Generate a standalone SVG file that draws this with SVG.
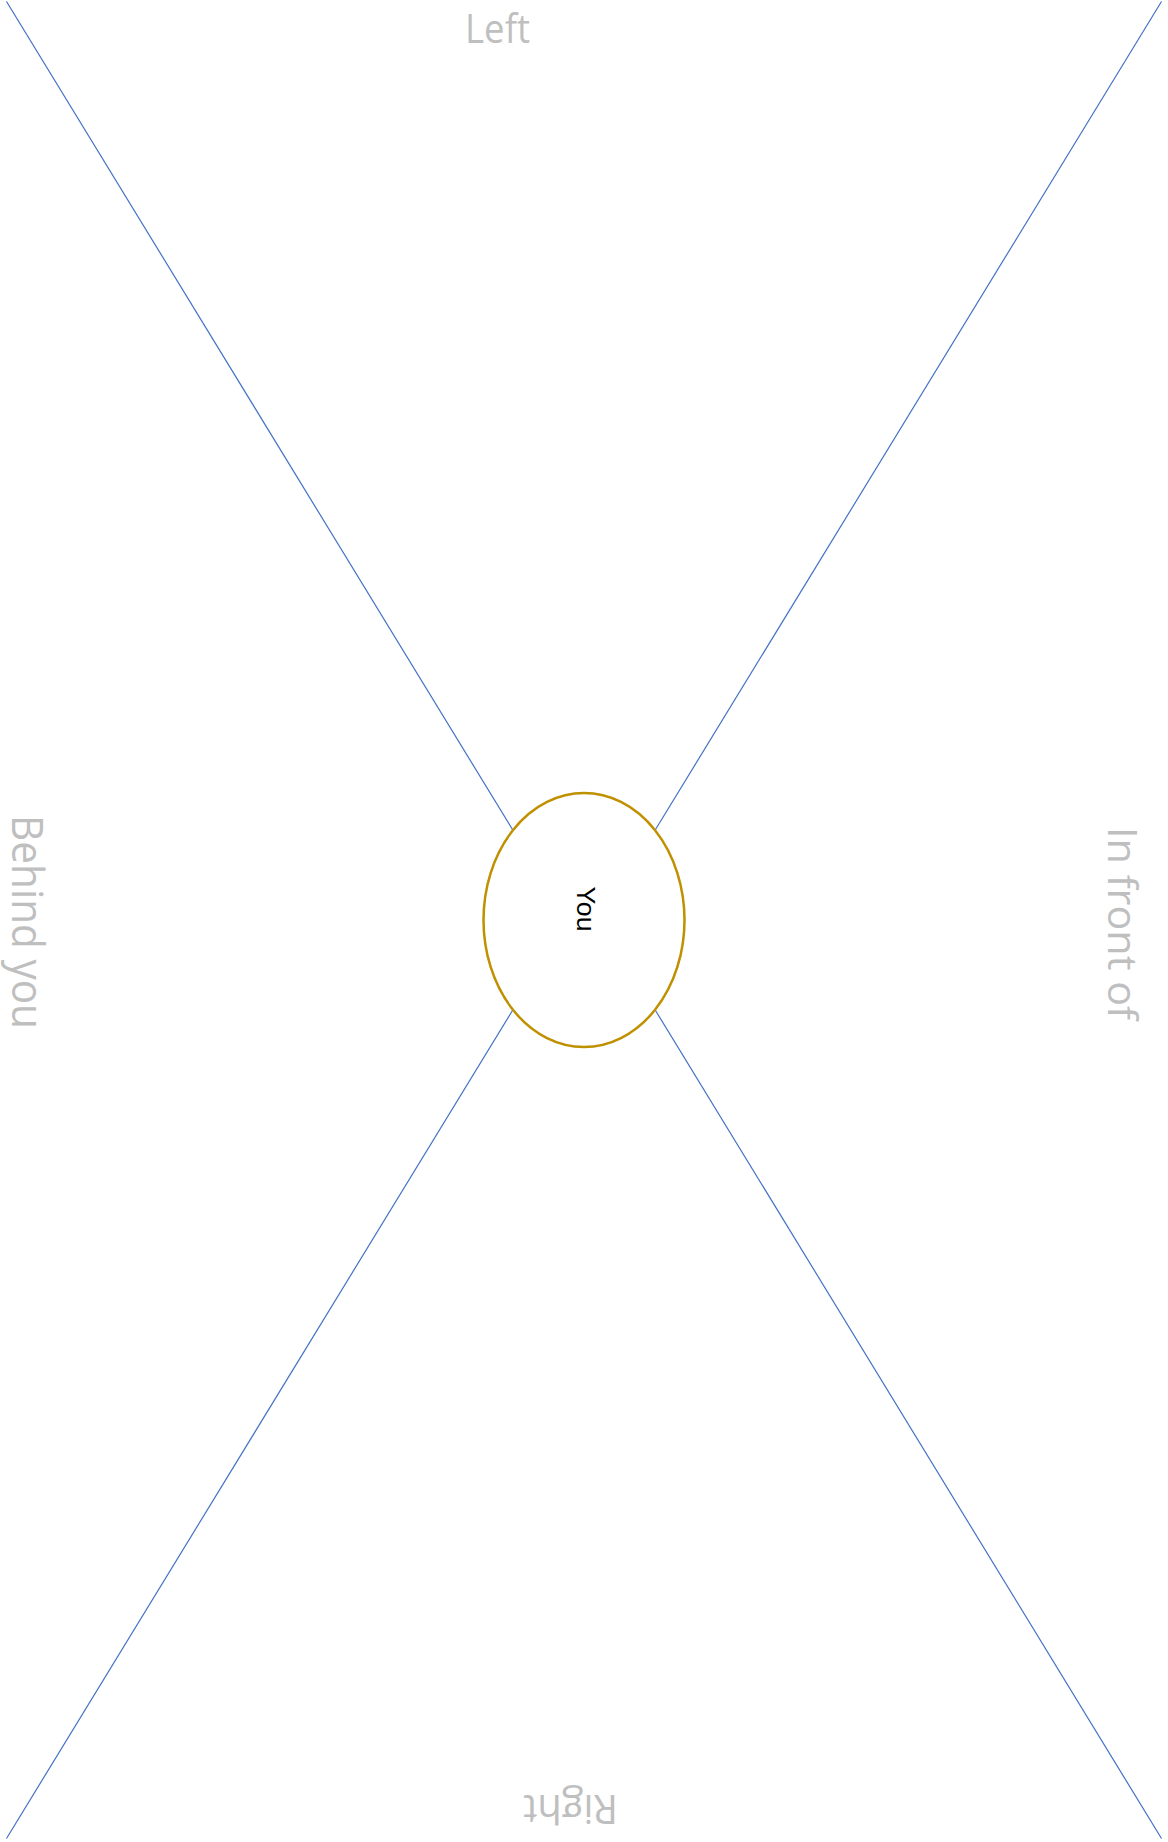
<svg xmlns="http://www.w3.org/2000/svg" width="1168" height="1842" viewBox="0 0 1168 1842">
<style>
.conn{stroke:#4472c4;stroke-width:1.2;fill:none}
.side{font-family:"Open Sans","Noto Sans",sans-serif;fill:#bfbfbf;text-anchor:middle}
.you{font-family:"Liberation Sans",Arial,sans-serif;fill:#000;font-size:25px;text-anchor:middle}
</style>
<rect width="1168" height="1842" fill="#fff"/>
<g id="connectors">
<line class="conn" x1="6.5" y1="1.5" x2="512.5" y2="829.5"/>
<line class="conn" x1="1161.5" y1="1.5" x2="655.5" y2="829.5"/>
<line class="conn" x1="6.5" y1="1838.5" x2="512.5" y2="1010.5"/>
<line class="conn" x1="1161.5" y1="1838.5" x2="655.5" y2="1010.5"/>
</g>
<g id="node-you">
<ellipse cx="584" cy="920" rx="100.5" ry="127" fill="#fff" stroke="#bf9000" stroke-width="2.5"/>
<text class="you" transform="translate(577,909) rotate(90)" textLength="45" lengthAdjust="spacingAndGlyphs">You</text>
</g>
<g id="label-left">
<text class="side" x="497.5" y="43" font-size="41" textLength="65" lengthAdjust="spacingAndGlyphs">Left</text>
</g>
<g id="label-behind">
<text class="side" transform="translate(12,922) rotate(90)" font-size="43" textLength="214" lengthAdjust="spacingAndGlyphs">Behind you</text>
</g>
<g id="label-front">
<text class="side" transform="translate(1108,923.5) rotate(90)" font-size="41" textLength="193" lengthAdjust="spacingAndGlyphs">In front of</text>
</g>
<g id="label-right">
<text class="side" transform="translate(570.5,1795) rotate(180)" font-size="40" textLength="95" lengthAdjust="spacingAndGlyphs">Right</text>
</g>
</svg>
